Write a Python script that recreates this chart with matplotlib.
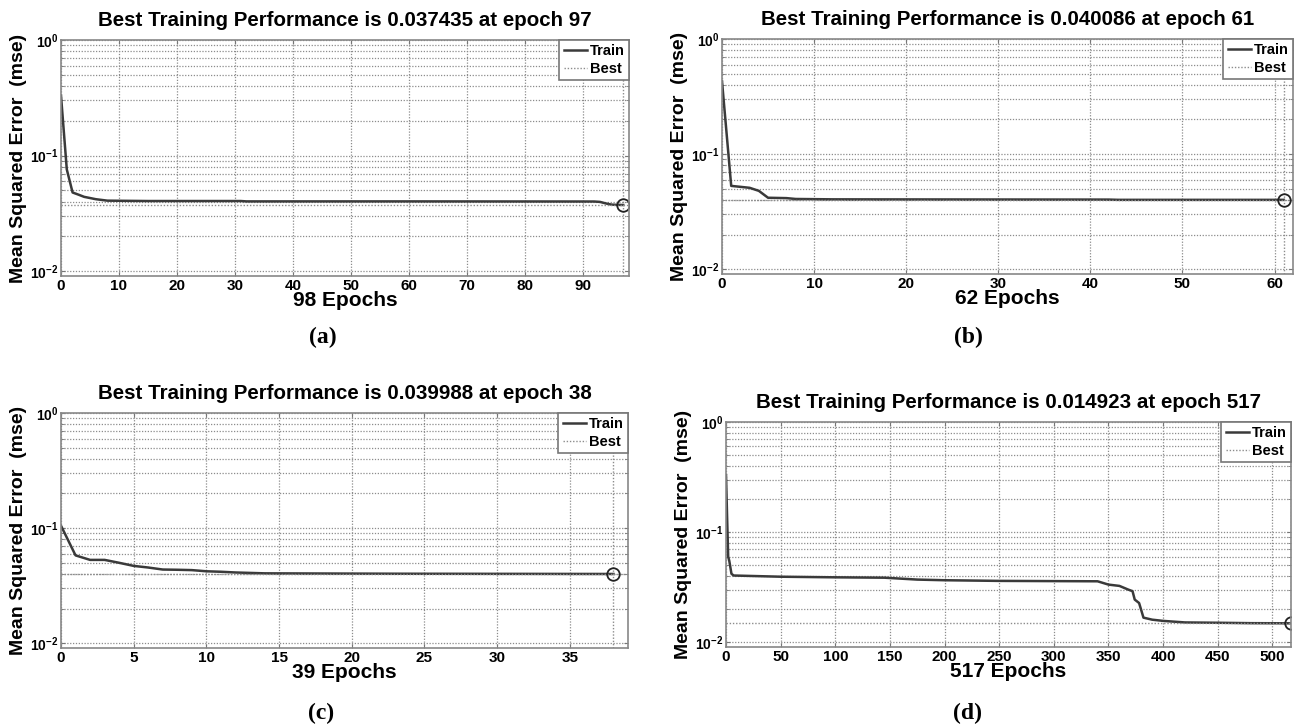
import matplotlib
matplotlib.use("Agg")
import matplotlib.pyplot as plt

plt.rcParams['font.family'] = ['Liberation Sans', 'DejaVu Sans']
plt.rcParams['font.weight'] = 'bold'
plt.rcParams['mathtext.fontset'] = 'custom'
plt.rcParams['mathtext.rm'] = 'Liberation Sans:bold'
plt.rcParams['mathtext.bf'] = 'Liberation Sans:bold'
plt.rcParams['mathtext.default'] = 'bf'

# (a) training curve, 98 epochs
epochs_a = [0, 1, 2, 3, 4, 5, 6, 8, 15, 31, 32, 60, 92, 93, 94, 95, 96, 97]
mse_a = [0.33, 0.076, 0.048, 0.046, 0.044, 0.043, 0.042, 0.0408, 0.0405, 0.0405,
         0.0402, 0.0402, 0.0401, 0.0398, 0.0386, 0.0377, 0.0375, 0.037435]
best_a = (97, 0.037435)

# (b) training curve, 62 epochs
epochs_b = [0, 1, 2, 3, 4, 5, 7, 8, 12, 26, 42, 43, 61]
mse_b = [0.43, 0.053, 0.052, 0.051, 0.048, 0.0418, 0.0415, 0.0408, 0.0405,
         0.0404, 0.0403, 0.0401, 0.040086]
best_b = (61, 0.040086)

# (c) training curve, 39 epochs
epochs_c = [0, 1, 2, 3, 4, 5, 6, 7, 8, 9, 10, 11, 12, 14, 23, 38]
mse_c = [0.105, 0.058, 0.053, 0.053, 0.050, 0.047, 0.0455, 0.0437, 0.0435,
         0.0432, 0.0422, 0.0418, 0.0412, 0.0405, 0.0402, 0.039988]
best_c = (38, 0.039988)

# (d) training curve, 517 epochs
epochs_d = [0, 1, 2, 3, 5, 7, 50, 100, 145, 175, 200, 250, 340, 350, 360, 368,
            372, 374, 378, 380, 382, 390, 400, 420, 450, 480, 517]
mse_d = [0.33, 0.138, 0.060, 0.055, 0.042, 0.0405, 0.0395, 0.0390, 0.0387,
         0.0372, 0.0367, 0.0362, 0.0359, 0.0335, 0.0326, 0.0302, 0.0292, 0.0245,
         0.0228, 0.0196, 0.0168, 0.0161, 0.0157, 0.0152, 0.0151, 0.01497, 0.014923]
best_d = (517, 0.014923)

panels = [
    ("a", epochs_a, mse_a, best_a, 98, [0, 10, 20, 30, 40, 50, 60, 70, 80, 90]),
    ("b", epochs_b, mse_b, best_b, 62, [0, 10, 20, 30, 40, 50, 60]),
    ("c", epochs_c, mse_c, best_c, 39, [0, 5, 10, 15, 20, 25, 30, 35]),
    ("d", epochs_d, mse_d, best_d, 517, [0, 50, 100, 150, 200, 250, 300, 350, 400, 450, 500]),
]

# axes boxes in pixels: left, top, right, bottom
boxes = {
    "a": (61, 40, 629, 276),
    "b": (722, 39, 1293, 274),
    "c": (61, 413, 628, 648),
    "d": (726, 422, 1291, 647),
}
# sub-figure caption centres in pixels
captions = {"a": (323, 337), "b": (968, 337), "c": (321, 713), "d": (968, 713)}

W, H = 1294, 727
fig = plt.figure(figsize=(W / 100, H / 100), dpi=100)

line_col = '#3a3a3a'
grid_col = '#8c8c8c'
dots = (0, (1.0, 1.3))

for tag, ep, mse, best, n_ep, xt in panels:
    l, t, r, b = boxes[tag]
    ax = fig.add_axes([l / W, 1 - b / H, (r - l) / W, (b - t) / H])
    ax.set_yscale('log')
    ax.set_ylim(0.0091, 1.0)
    ax.set_xlim(0, n_ep)

    ax.plot(ep, mse, color=line_col, lw=1.8, label='Train')
    ax.axhline(best[1], color=grid_col, lw=1.0, ls=dots, label='Best')
    ax.axvline(best[0], color=grid_col, lw=1.0, ls=dots)
    ax.plot([best[0]], [best[1]], 'o', mfc='none', mec='#222222', ms=9, mew=1.3)

    ax.set_xticks(xt)
    ax.set_xticklabels([str(v) for v in xt], fontsize=11, fontweight='bold')
    ax.set_yticks([0.01, 0.1, 1.0])
    ax.set_yticklabels([r'$10^{-2}$', r'$10^{-1}$', r'$10^{0}$'], fontsize=10)
    ax.tick_params(which='both', direction='in', top=True, right=True, pad=2,
                   length=3, color='#777777')
    ax.tick_params(which='minor', length=2)
    ax.grid(True, which='major', axis='both', color=grid_col, ls=dots, lw=0.9)
    ax.grid(True, which='minor', axis='y', color=grid_col, ls=dots, lw=0.9)
    for sp in ax.spines.values():
        sp.set_color('#888888')
        sp.set_linewidth(1.2)

    ax.set_title(f"Best Training Performance is {best[1]:.6f} at epoch {best[0]}",
                 fontsize=14.8, fontweight='bold', pad=10)
    ax.set_xlabel(f"{n_ep} Epochs", fontsize=15, fontweight='bold', labelpad=-1)
    ax.set_ylabel("Mean Squared Error  (mse)", fontsize=14, fontweight='bold', labelpad=2)

    leg = ax.legend(loc='upper right', fontsize=10.5, frameon=True, fancybox=False,
                    handlelength=1.6, handletextpad=0.2, borderpad=0.3,
                    labelspacing=0.25, borderaxespad=0.0, framealpha=1)
    leg.get_frame().set_edgecolor('#777777')
    leg.get_frame().set_linewidth(1.2)
    for txt in leg.get_texts():
        txt.set_fontweight('bold')

    cx, cy = captions[tag]
    fig.text(cx / W, 1 - cy / H, f"({tag})", ha='center', va='center',
             fontsize=17, fontweight='bold', family='Liberation Serif')

fig.savefig("out.png", dpi=100)
